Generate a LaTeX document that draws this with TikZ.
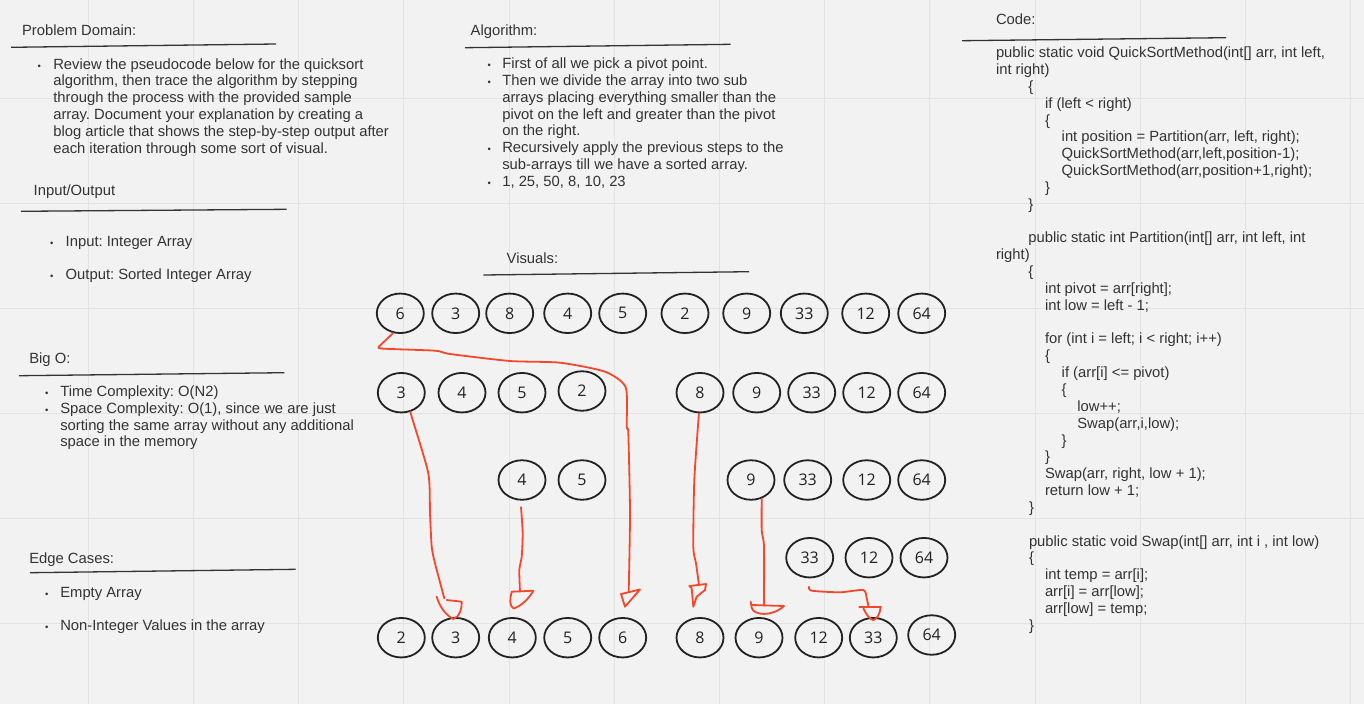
\documentclass[tikz,border=0pt]{standalone}
\usepackage{fontspec}
\setmainfont{Liberation Sans}
\newfontfamily\digitfont{Open Sans}
\usetikzlibrary{shapes.geometric,calc}
\frenchspacing
\definecolor{bg}{HTML}{F2F2F2}
\definecolor{gridc}{HTML}{E3E3E3}
\definecolor{ink}{HTML}{333333}
\definecolor{redl}{HTML}{F4472B}
\definecolor{circ}{HTML}{222222}
\tikzset{
  txt/.style={anchor=base west, inner sep=0pt, outer sep=0pt, text=ink, font=\fontsize{14.8}{16.8}\selectfont\frenchspacing},
  bul/.style={anchor=base, inner sep=0pt, outer sep=0pt, text=ink, font=\fontsize{9.5}{9.5}\selectfont},
  rule/.style={draw=ink, line width=1.3pt},
  num/.style={ellipse, draw=circ, line width=1.8pt, minimum width=47pt, minimum height=39.5pt, inner sep=0pt, text=circ, font=\digitfont\fontsize{16}{16}\selectfont},
  redline/.style={draw=redl, line width=1.8pt, line cap=round, line join=round},
  gridline/.style={draw=gridc, line width=1pt},
}
\begin{document}
\begin{tikzpicture}[x=1pt,y=-1pt]
\fill[bg] (0,0) rectangle (1364,704);
\useasboundingbox (0,0) rectangle (1364,704);
% grid
\foreach \k in {0,...,12} \draw[gridline] ({88.3+105.2*\k},0) -- ++(0,704);
\foreach \k in {0,...,5} \draw[gridline] (0,{98.2+105.1*\k}) -- ++(1364,0);

% ---------- Problem Domain ----------
\node[txt] (pdh) at (22,35.3) {Problem Domain:};
\draw[rule] (11,47.3) -- (276,44);
\node[bul] (pdb) at (39.3,69) {•};
\node[txt] (pd1) at (53.3,69) {Review the pseudocode below for the quicksort};
\node[txt] (pd2) at (53.3,85.85) {algorithm, then trace the algorithm by stepping};
\node[txt] (pd3) at (53.3,102.7) {through the process with the provided sample};
\node[txt] (pd4) at (53.3,119.55) {array. Document your explanation by creating a};
\node[txt] (pd5) at (53.3,136.4) {blog article that shows the step-by-step output after};
\node[txt] (pd6) at (53.3,153.25) {each iteration through some sort of visual.};

% ---------- Input/Output ----------
\node[txt] (ioh) at (33.7,195) {Input/Output};
\draw[rule] (21,211.3) -- (286.7,209.3);
\node[bul] (iob1) at (51.7,246.5) {•};
\node[txt] (io1) at (65.7,246.5) {Input: Integer Array};
\node[bul] (iob2) at (51.7,279.7) {•};
\node[txt] (io2) at (65.7,279.7) {Output: Sorted Integer Array};

% ---------- Big O ----------
\node[txt] (boh) at (29.3,363.3) {Big O:};
\draw[rule] (19,375.7) -- (284.3,372.7);
\node[bul] (bob1) at (46.7,396.7) {•};
\node[txt] (bo1) at (60.3,396.7) {Time Complexity: O(N2)};
\node[bul] (bob2) at (46.7,413.4) {•};
\node[txt] (bo2) at (60.3,413.4) {Space Complexity: O(1), since we are just};
\node[txt] (bo3) at (60.3,430.1) {sorting the same array without any additional};
\node[txt] (bo4) at (60.3,446.8) {space in the memory};

% ---------- Edge Cases ----------
\node[txt] (ech) at (29.3,563.3) {Edge Cases:};
\draw[rule] (30,572.7) -- (295.7,569.3);
\node[bul] (ecb1) at (46.7,597.3) {•};
\node[txt] (ec1) at (60.3,597.3) {Empty Array};
\node[bul] (ecb2) at (46.7,630.7) {•};
\node[txt] (ec2) at (60.3,630.7) {Non-Integer Values in the array};

% ---------- Algorithm ----------
\node[txt] (alh) at (470.7,35.5) {Algorithm:};
\draw[rule] (465,47.7) -- (730.7,44.3);
\node[bul] (alb1) at (489.3,68.5) {•};
\node[txt] (al1) at (502.3,68.5) {First of all we pick a pivot point.};
\node[bul] (alb2) at (489.3,85.35) {•};
\node[txt] (al2) at (502.3,85.35) {Then we divide the array into two sub};
\node[txt] (al3) at (502.3,102.2) {arrays placing everything smaller than the};
\node[txt] (al4) at (502.3,119.05) {pivot on the left and greater than the pivot};
\node[txt] (al5) at (502.3,135.9) {on the right.};
\node[bul] (alb3) at (489.3,152.75) {•};
\node[txt] (al6) at (502.3,152.75) {Recursively apply the previous steps to the};
\node[txt] (al7) at (502.3,169.6) {sub-arrays till we have a sorted array.};
\node[bul] (alb4) at (489.3,186.45) {•};
\node[txt] (al8) at (502.3,186.45) {1, 25, 50, 8, 10, 23};

% ---------- Visuals ----------
\node[txt] (vih) at (506.7,263.3) {Visuals:};
\draw[rule] (483.3,275) -- (749,271.7);

% ---------- Code ----------
\node[txt] (cdh) at (996,24.6) {Code:};
\draw[rule] (962,40.7) -- (1226,37.7);
\node[txt] (c0)  at (996,   {57.7+16.84*0})  {public static void QuickSortMethod(int[] arr, int left,};
\node[txt] (c1)  at (996,   {57.7+16.84*1})  {int right)};
\node[txt] (c2)  at (1028.3,{57.7+16.84*2})  {\{};
\node[txt] (c3)  at (1045,  {57.7+16.84*3})  {if (left < right)};
\node[txt] (c4)  at (1045,  {57.7+16.84*4})  {\{};
\node[txt] (c5)  at (1061.7,{57.7+16.84*5})  {int position = Partition(arr, left, right);};
\node[txt] (c6)  at (1061.7,{57.7+16.84*6})  {QuickSortMethod(arr,left,position-1);};
\node[txt] (c7)  at (1061.7,{57.7+16.84*7})  {QuickSortMethod(arr,position+1,right);};
\node[txt] (c8)  at (1045,  {57.7+16.84*8})  {\}};
\node[txt] (c9)  at (1028.3,{57.7+16.84*9})  {\}};
\node[txt] (c11) at (1028.3,{57.7+16.84*11}) {public static int Partition(int[] arr, int left, int};
\node[txt] (c12) at (996,   {57.7+16.84*12}) {right)};
\node[txt] (c13) at (1028.3,{57.7+16.84*13}) {\{};
\node[txt] (c14) at (1045,  {57.7+16.84*14}) {int pivot = arr[right];};
\node[txt] (c15) at (1045,  {57.7+16.84*15}) {int low = left - 1;};
\node[txt] (c17) at (1045,  {57.7+16.84*17}) {for (int i = left; i < right; i++)};
\node[txt] (c18) at (1045,  {57.7+16.84*18}) {\{};
\node[txt] (c19) at (1061.7,{57.7+16.84*19}) {if (arr[i] <= pivot)};
\node[txt] (c20) at (1061.7,{57.7+16.84*20}) {\{};
\node[txt] (c21) at (1077.3,{57.7+16.84*21}) {low++;};
\node[txt] (c22) at (1077.3,{57.7+16.84*22}) {Swap(arr,i,low);};
\node[txt] (c23) at (1061.7,{57.7+16.84*23}) {\}};
\node[txt] (c24) at (1045,  {57.7+16.84*24}) {\}};
\node[txt] (c25) at (1045,  {57.7+16.84*25}) {Swap(arr, right, low + 1);};
\node[txt] (c26) at (1045,  {57.7+16.84*26}) {return low + 1;};
\node[txt] (c27) at (1029,  {57.7+16.84*27}) {\}};
\node[txt] (c29) at (1029,  {57.7+16.84*29}) {public static void Swap(int[] arr, int i , int low)};
\node[txt] (c30) at (1029,  {57.7+16.84*30}) {\{};
\node[txt] (c31) at (1045,  {57.7+16.84*31}) {int temp = arr[i];};
\node[txt] (c32) at (1045,  {57.7+16.84*32}) {arr[i] = arr[low];};
\node[txt] (c33) at (1045,  {57.7+16.84*33}) {arr[low] = temp;};
\node[txt] (c34) at (1029,  {57.7+16.84*34}) {\}};

% ---------- Circles ----------
% row 1
\node[num] (r1a) at (400.3,313.3) {6};
\node[num] (r1b) at (455.7,313.3) {3};
\node[num] (r1c) at (509.7,313.3) {8};
\node[num] (r1d) at (567.7,313.3) {4};
\node[num] (r1e) at (622.7,313.3) {5};
\node[num] (r1f) at (685,313.3) {2};
\node[num] (r1g) at (746.7,313.3) {9};
\node[num] (r1h) at (804.3,313.3) {33};
\node[num] (r1i) at (865.7,313.3) {12};
\node[num] (r1j) at (921.7,313.3) {64};
% row 2
\node[num] (r2a) at (401.3,392.7) {3};
\node[num] (r2b) at (462,392.7) {4};
\node[num] (r2c) at (522,392.7) {5};
\node[num] (r2d) at (582,391) {2};
\node[num] (r2e) at (700,392.7) {8};
\node[num] (r2f) at (756.7,392.7) {9};
\node[num] (r2g) at (811.7,392.7) {33};
\node[num] (r2h) at (866.7,392.7) {12};
\node[num] (r2i) at (921.7,392.7) {64};
% row 3
\node[num] (r3a) at (522,480) {4};
\node[num] (r3b) at (582,480) {5};
\node[num] (r3c) at (751,480) {9};
\node[num] (r3d) at (807.7,480) {33};
\node[num] (r3e) at (866.7,480) {12};
\node[num] (r3f) at (921.7,480) {64};
% row 4
\node[num] (r4a) at (809.7,557.7) {33};
\node[num] (r4b) at (869,557.7) {12};
\node[num] (r4c) at (924,557.7) {64};
% row 5
\node[num] (r5a) at (401.3,637.7) {2};
\node[num] (r5b) at (455.7,637.7) {3};
\node[num] (r5c) at (512.3,637.7) {4};
\node[num] (r5d) at (567.7,637.7) {5};
\node[num] (r5e) at (622.7,637.7) {6};
\node[num] (r5f) at (700,637.7) {8};
\node[num] (r5g) at (759,637.7) {9};
\node[num] (r5h) at (818.7,637.7) {12};
\node[num] (r5i) at (873.3,637.7) {33};
\node[num] (r5j) at (931.7,635) {64};

% ---------- Red hand-drawn connectors ----------
% 6 -> 6
\draw[redline] plot[smooth, tension=0.3] coordinates {(r1a.250) (379,346.5)};
\draw[redline] plot[smooth, tension=0.4] coordinates {(379,346.5) (382,348.6) (435,350.7) (450,354) (510,361) (560,362.7) (605,371.7) (625.7,387.3) (626.7,426.7) (628.3,433.3) (630,513.3) ($(r5e)+(6,-45.7)$)};
\draw[redline] (621,594) -- (640,589.5) -- (625,606.7) -- cycle;
% 3 -> 3
\draw[redline] plot[smooth, tension=0.4] coordinates {(r2a.296) (411.7,416.7) (428.3,473.3) (430,513.3) (431.7,546.7) (435,563.3) ($(r5b)+(-11.4,-39.4)$)};
\draw[redline] (436.7,596.7) .. controls (439,605) and (445,615) .. (453.3,619) .. controls (460,617) and (462,608) .. (461.7,601.7) -- (446.7,600);
% 4 -> 4
\draw[redline] plot[smooth, tension=0.4] coordinates {($(r3a.south)+(-1,6.5)$) (522.7,533.3) (521.7,556.7) (519.3,570) ($(r5c)+(7.7,-46)$)};
\draw[redline] (511.7,591.7) -- (533.3,590.7) .. controls (530,597) and (522,606) .. (513.5,608.5) .. controls (509,606) and (510,598) .. (511.7,591.7);
% 8 -> 8
\draw[redline] plot[smooth, tension=0.4] coordinates {(r2e.267) (694.3,480) (693.3,546.7) (696,563.3) ($(r5f)+(-1,-52.7)$)};
\draw[redline] (691.7,588.3) -- (689.3,586) -- (706,584) -- (705,590) -- (696.7,596.7) -- (693.3,606.7) -- (691.7,588.3);
% 9 -> 9
\draw[redline] plot[smooth, tension=0.4] coordinates {(r3c.300) (761.7,530) (764,546.7) ($(r5g)+(5,-32.7)$)};
\draw[redline] (750.7,601.7) -- (751.7,608) .. controls (754,615.5) and (772,617) .. (784,606) -- (751.7,605);
% 33 -> 33
\draw[redline] plot[smooth, tension=0.4] coordinates {($(r4a.south)+(-0.7,8.5)$) (811.7,590.7) (840,592.3) (863.3,590) (866.7,598.3) ($(r5i)+(-5,-31.7)$)};
\draw[redline] (859.3,606.7) -- (880.7,606.7);
\draw[redline] (863.3,608.3) .. controls (866,614) and (870,620) .. (873.3,620) .. controls (877,619) and (880,614) .. (880.7,606.7);
\end{tikzpicture}
\end{document}
